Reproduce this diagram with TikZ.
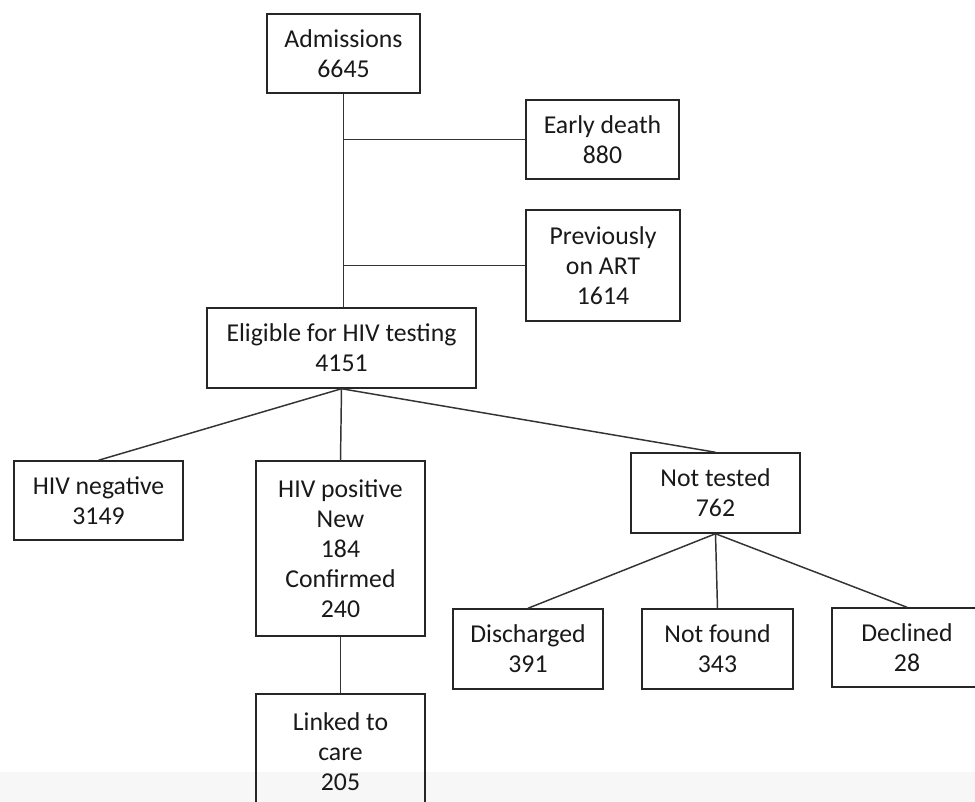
\documentclass[tikz,border=0pt]{standalone}
\usepackage{fontspec}
\setmainfont{Carlito}
\usetikzlibrary{calc,positioning}
\newcommand{\pxu}{0.75pt}
\tikzset{
myBox/.style={
	rectangle,draw=black!85,line width=1.1pt,
	inner sep=2pt,align=center,text=black!90,
	font=\fontsize{19.3}{22.5}\selectfont
}
, myLink/.style={-,draw=black!80,line width=1.1pt}
, myBand/.style={fill=gray!6,draw=none}
}

\begin{document}
\begin{tikzpicture}[x=0.75pt,y=-0.75pt]
	\useasboundingbox (0,0) rectangle (975,802);
	\clip (0,0) rectangle (975,802);
	% background
	\fill[white] (0,0) rectangle (975,802);
	\fill[myBand] (0,772) rectangle (975,802);

	% nodes
	\node[myBox,minimum width=153*\pxu,minimum height=79*\pxu] (Adm) at (343.5,53.5) {Admissions\\6645};
	\node[myBox,minimum width=153*\pxu,minimum height=79*\pxu] (EarlyDeath) at (602.5,139.5) {Early death\\880};
	\node[myBox,minimum width=154*\pxu,minimum height=111*\pxu] (PrevART) at (603,265.5) {Previously\\on ART\\1614};
	\node[myBox,minimum width=269*\pxu,minimum height=80*\pxu] (Eligible) at (341.5,348) {Eligible for HIV testing\\4151};
	% test results
	\node[myBox,minimum width=169*\pxu,minimum height=79*\pxu] (HivNeg) at (98.5,500.5) {HIV negative\\3149};
	\node[myBox,minimum width=169*\pxu,minimum height=175*\pxu] (HivPos) at (340.5,548.5) {HIV positive\\New\\184\\Confirmed\\240};
	\node[myBox,minimum width=169*\pxu,minimum height=116*\pxu] (Linked) at (340.5,752) {Linked to\\care\\205};
	\node[myBox,minimum width=169*\pxu,minimum height=80*\pxu] (NotTested) at (715.5,493) {Not tested\\762};
	% not tested
	\node[myBox,minimum width=150*\pxu,minimum height=80*\pxu] (Discharged) at (528,649) {Discharged\\391};
	\node[myBox,minimum width=151*\pxu,minimum height=80*\pxu] (NotFound) at (717.5,649) {Not found\\343};
	\node[myBox,minimum width=150*\pxu,minimum height=79*\pxu] (Declined) at (907,647.5) {Declined\\28};

	% links
	\draw[myLink] (Adm.south) -- (Adm.south |- Eligible.north);
	\draw[myLink] (Adm.south |- EarlyDeath.west) -- (EarlyDeath.west);
	\draw[myLink] (Adm.south |- PrevART.west) -- (PrevART.west);

	\draw[myLink] (Eligible.south) -- (HivNeg.north);
	\draw[myLink] (Eligible.south) -- (HivPos.north);
	\draw[myLink] (Eligible.south) -- (NotTested.north);
	\draw[myLink] (HivPos.south) -- (Linked.north);

	\draw[myLink] (NotTested.south) -- (Discharged.north);
	\draw[myLink] (NotTested.south) -- (NotFound.north);
	\draw[myLink] (NotTested.south) -- (Declined.north);
\end{tikzpicture}
\end{document}
